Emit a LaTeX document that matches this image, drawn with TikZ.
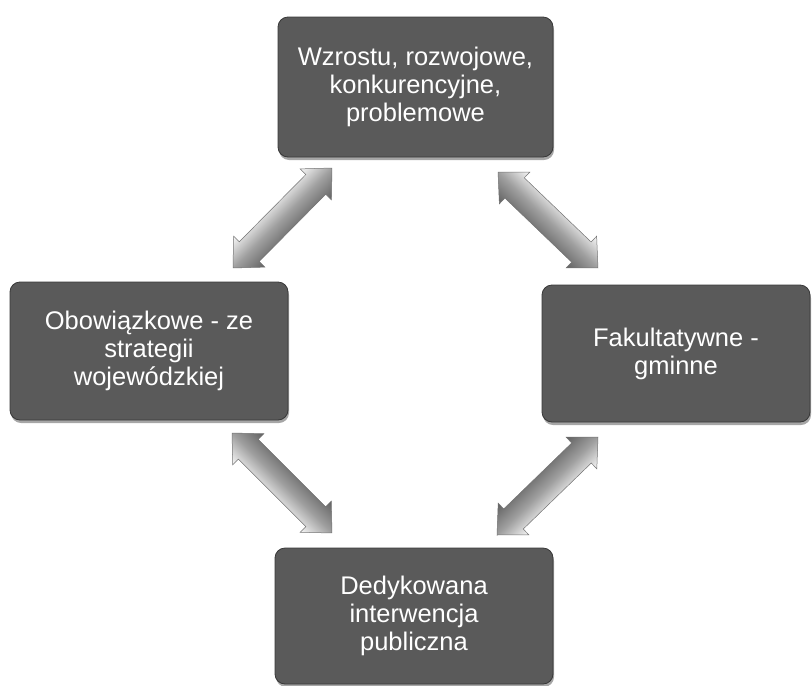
\documentclass[tikz,border=0pt]{standalone}
\usepackage{fontspec}
\setmainfont{Liberation Sans}
\usetikzlibrary{calc,shadows}
\definecolor{boxgray}{RGB}{90,90,90}
\newdimen\fadx
\newdimen\fady
\newcommand\fatarrowpath{%
  ({-\falen/2},0) -- ({-\falen/2+23},22) -- ({-\falen/2+23},14)
  -- ({\falen/2-23},14) -- ({\falen/2-23},22) -- ({\falen/2},0)
  -- ({\falen/2-23},-22) -- ({\falen/2-23},-14)
  -- ({-\falen/2+23},-14) -- ({-\falen/2+23},-22) -- cycle}
\newcommand\fatarrow[2]{%
  \pgfmathanglebetweenpoints{\pgfpointanchor{#1}{center}}{\pgfpointanchor{#2}{center}}%
  \let\faang\pgfmathresult
  \pgfextractx{\fadx}{\pgfpointdiff{\pgfpointanchor{#1}{center}}{\pgfpointanchor{#2}{center}}}%
  \pgfextracty{\fady}{\pgfpointdiff{\pgfpointanchor{#1}{center}}{\pgfpointanchor{#2}{center}}}%
  \pgfmathveclen{\fadx}{\fady}\let\falen\pgfmathresult
  \begin{scope}[transform canvas={shift={($(#1)!0.5!(#2)$)}, rotate=\faang}]
    \shade[arrowsty] \fatarrowpath;
    \draw[arrowline] \fatarrowpath;
  \end{scope}
}
\begin{document}
\begin{tikzpicture}[x=1pt,y=-1pt,
  box/.style={rounded corners=10pt, fill=boxgray, draw=black!78, line width=0.8pt,
    text=white, align=center, inner sep=0pt, outer sep=0pt,
    font=\fontsize{25.5}{28}\selectfont,
    drop shadow={shadow xshift=1pt, shadow yshift=-3pt, opacity=0.35, fill=black}},
  arrowsty/.style={top color=white!94!gray, bottom color=black!62, middle color=gray!75},
  arrowline/.style={draw=black!55, line width=0.5pt, line join=miter}
]
\useasboundingbox (0,0) rectangle (812,686);
\node[box, minimum width=275pt, minimum height=140pt] (top) at (415.5,87)
  {Wzrostu, rozwojowe,\\konkurencyjne,\\problemowe};
\node[box, minimum width=278pt, minimum height=138pt] (left) at (149,351)
  {Obowiązkowe - ze\\strategii\\wojewódzkiej};
\node[box, minimum width=268pt, minimum height=137pt] (right) at (676,353.5)
  {Fakultatywne -\\gminne};
\node[box, minimum width=278pt, minimum height=136pt] (bottom) at (414,616)
  {Dedykowana\\interwencja\\publiczna};

\coordinate (tlA) at ([shift={(-55,-14)}]left.north east);
\coordinate (tlB) at ([shift={(54,11)}]top.south west);
\coordinate (trA) at ([shift={(-55,15)}]top.south east);
\coordinate (trB) at ([shift={(56,-17)}]right.north west);
\coordinate (blA) at ([shift={(-56,13)}]left.south east);
\coordinate (blB) at ([shift={(57,-15)}]bottom.north west);
\coordinate (brA) at ([shift={(56,15)}]right.south west);
\coordinate (brB) at ([shift={(-56,-13)}]bottom.north east);

\fatarrow{tlA}{tlB}
\fatarrow{trA}{trB}
\fatarrow{blB}{blA}
\fatarrow{brA}{brB}
\end{tikzpicture}
\end{document}
